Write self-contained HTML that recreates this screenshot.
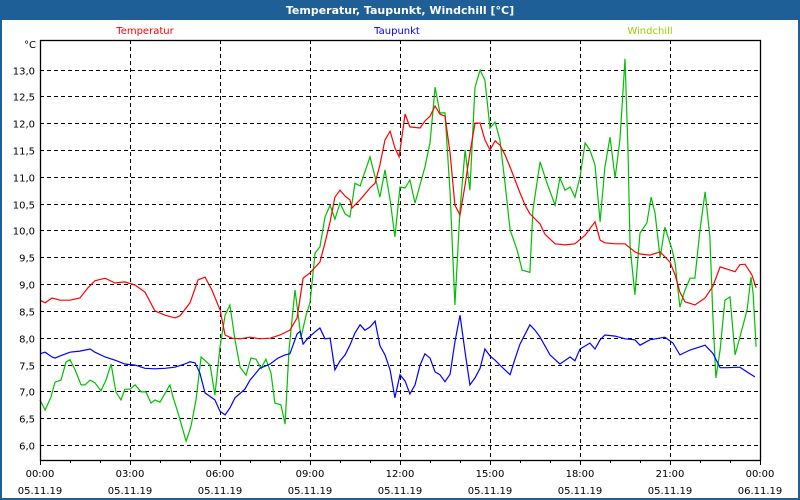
<!DOCTYPE html>
<html><head><meta charset="utf-8"><style>
body{margin:0;background:#fff;}
#wrap{position:relative;width:800px;height:500px;overflow:hidden;font-family:"DejaVu Sans","Liberation Sans",sans-serif;}
svg text{font-family:"DejaVu Sans","Liberation Sans",sans-serif;}
</style></head><body>
<div id="wrap">
<svg id="c" width="800" height="500" xmlns="http://www.w3.org/2000/svg">
<rect x="0" y="0" width="800" height="500" fill="#1e5f98"/>
<rect x="2" y="20" width="796" height="478" fill="#fff"/>
<text x="400" y="14" text-anchor="middle" fill="#fff" font-size="11" font-weight="bold">Temperatur, Taupunkt, Windchill [°C]</text>
<text x="145" y="34" text-anchor="middle" fill="#ff0000" font-size="10">Temperatur</text>
<text x="397" y="34" text-anchor="middle" fill="#0000ff" font-size="10">Taupunkt</text>
<text x="650" y="34" text-anchor="middle" fill="#99cc00" font-size="10">Windchill</text>
<text x="36" y="48" text-anchor="end" fill="#000" font-size="10">°C</text>
<g id="grid"></g><g id="series"></g><g id="axes"></g>
</svg></div>
<script>
const tempT=[0,0.17,0.4,0.67,1,1.33,1.6,1.83,2.17,2.5,2.83,3.17,3.5,3.83,4.17,4.5,4.67,5,5.27,5.5,5.73,6,6.17,6.4,6.67,7,7.33,7.67,8,8.33,8.57,8.77,9,9.33,9.5,9.67,9.83,10,10.17,10.33,10.4,10.67,11,11.17,11.33,11.5,11.67,11.83,11.97,12.17,12.33,12.67,12.83,13,13.17,13.33,13.5,13.67,13.83,14,14.17,14.33,14.5,14.67,14.83,15,15.17,15.33,15.5,15.67,16,16.17,16.33,16.67,16.83,17.17,17.5,17.83,18.17,18.5,18.67,18.83,19.17,19.5,19.83,20,20.33,20.67,21,21.17,21.33,21.5,21.83,22.17,22.43,22.67,23,23.17,23.33,23.5,23.73,23.87];
const tempV=[8.70,8.65,8.74,8.70,8.70,8.74,8.93,9.06,9.11,9.02,9.04,8.98,8.85,8.50,8.42,8.37,8.41,8.65,9.08,9.13,8.89,8.52,8.05,7.99,7.98,8.01,7.98,7.99,8.05,8.14,8.37,9.11,9.21,9.41,9.77,10.16,10.62,10.75,10.64,10.57,10.42,10.57,10.79,10.88,11.22,11.69,11.85,11.54,11.37,12.17,11.93,11.91,12.04,12.13,12.32,12.17,12.13,11.44,10.47,10.29,10.85,11.44,12.00,12.00,11.69,11.50,11.67,11.59,11.41,11.18,10.70,10.47,10.31,10.12,9.93,9.75,9.73,9.75,9.91,10.16,9.82,9.77,9.75,9.75,9.60,9.56,9.54,9.60,9.41,9.17,8.85,8.67,8.61,8.74,8.96,9.32,9.26,9.23,9.36,9.37,9.17,8.93];
const dewT=[0,0.17,0.4,0.5,0.67,1,1.33,1.67,1.83,2.17,2.5,2.83,3.17,3.5,3.83,4.17,4.5,4.83,5,5.17,5.33,5.5,5.83,6,6.17,6.33,6.5,6.83,7,7.33,7.67,7.93,8.17,8.33,8.57,8.67,8.77,8.93,9.17,9.33,9.5,9.67,9.83,10,10.17,10.33,10.5,10.67,10.83,11,11.17,11.33,11.5,11.67,11.83,12,12.17,12.33,12.5,12.67,12.83,13,13.17,13.33,13.5,13.67,13.83,14,14.17,14.33,14.5,14.67,14.83,15,15.17,15.33,15.5,15.67,15.83,16,16.33,16.5,16.67,17,17.33,17.67,17.83,18,18.33,18.5,18.67,18.83,19.17,19.5,19.83,20,20.33,20.83,21.1,21.33,21.67,22.17,22.43,22.67,22.9,23.33,23.57,23.83];
const dewV=[7.70,7.73,7.64,7.62,7.66,7.73,7.75,7.79,7.73,7.64,7.58,7.51,7.49,7.43,7.42,7.43,7.45,7.51,7.55,7.53,7.34,6.97,6.84,6.63,6.56,6.69,6.88,7.04,7.21,7.43,7.51,7.62,7.68,7.70,8.07,8.12,7.88,7.99,8.11,8.18,7.98,7.99,7.40,7.57,7.68,7.86,8.09,8.24,8.14,8.20,8.31,7.85,7.68,7.40,6.88,7.31,7.19,6.95,7.12,7.49,7.70,7.62,7.36,7.31,7.18,7.32,7.92,8.42,7.73,7.12,7.25,7.43,7.79,7.66,7.58,7.49,7.40,7.31,7.60,7.88,8.24,8.14,8.01,7.68,7.51,7.64,7.57,7.79,7.90,7.79,7.96,8.05,8.03,7.98,7.96,7.86,7.96,8.01,7.90,7.68,7.77,7.86,7.71,7.44,7.44,7.45,7.36,7.27];
const windT=[0,0.17,0.37,0.5,0.7,0.87,1.0,1.17,1.37,1.5,1.67,1.83,2.03,2.2,2.37,2.53,2.7,2.83,3.0,3.17,3.37,3.53,3.7,3.83,4.0,4.33,4.43,4.6,4.87,5.03,5.2,5.37,5.67,5.83,6.0,6.17,6.33,6.5,6.67,6.87,7.03,7.2,7.37,7.53,7.7,7.83,8.03,8.17,8.3,8.5,8.7,8.87,9.0,9.17,9.33,9.5,9.67,9.83,10.0,10.17,10.33,10.5,10.67,11.0,11.17,11.33,11.5,11.67,11.83,12.0,12.17,12.33,12.5,12.83,13.0,13.17,13.33,13.5,13.67,13.83,14.0,14.17,14.33,14.5,14.67,14.83,15.0,15.17,15.33,15.5,15.67,15.9,16.07,16.33,16.43,16.67,16.9,17.17,17.33,17.5,17.67,17.83,18.0,18.17,18.33,18.5,18.67,18.83,19.0,19.17,19.33,19.43,19.5,19.6,19.67,19.83,20.0,20.23,20.37,20.5,20.67,20.83,21.07,21.17,21.33,21.5,21.67,21.83,22.0,22.17,22.33,22.43,22.53,22.67,22.83,23.0,23.17,23.33,23.57,23.7,23.77,23.87];
const windV=[6.84,6.65,6.90,7.17,7.21,7.55,7.59,7.40,7.12,7.12,7.21,7.16,7.01,7.21,7.51,6.99,6.84,7.04,7.04,7.12,6.99,6.99,6.78,6.84,6.80,7.12,6.90,6.60,6.07,6.34,6.84,7.64,7.49,6.93,7.83,8.42,8.61,7.96,7.45,7.30,7.62,7.60,7.43,7.60,7.34,6.78,6.75,6.39,7.77,8.89,8.01,8.42,8.65,9.58,9.69,10.25,10.47,10.21,10.51,10.31,10.25,10.88,10.83,11.37,11.00,10.62,11.13,10.57,9.88,10.81,10.79,10.94,10.51,11.18,11.63,12.67,12.19,12.19,10.70,8.61,10.38,11.50,10.75,12.67,12.99,12.80,11.91,12.02,11.69,10.88,10.01,9.64,9.26,9.22,10.38,11.28,10.88,10.47,10.98,10.75,10.81,10.62,10.99,11.63,11.50,11.22,10.16,11.18,11.74,10.98,11.69,12.56,13.20,11.50,9.69,8.80,9.95,10.14,10.62,10.33,9.49,10.06,9.64,9.39,8.57,8.89,9.11,9.11,10.01,10.72,9.88,8.39,7.25,7.77,8.70,8.76,7.68,8.01,8.52,9.13,8.83,7.83];
const yTicks=[6.0,6.5,7.0,7.5,8.0,8.5,9.0,9.5,10.0,10.5,11.0,11.5,12.0,12.5,13.0];
const xTickLabels=["00:00","03:00","06:00","09:00","12:00","15:00","18:00","21:00","00:00"];
const xDateLabels=["05.11.19","05.11.19","05.11.19","05.11.19","05.11.19","05.11.19","05.11.19","05.11.19","06.11.19"];
const L=40,R=760,T=40,B=460;
const X=h=>L+h*(R-L)/24;
const Y=v=>69.5+(13-v)*53.64;
const NS="http://www.w3.org/2000/svg";
function mk(tag,attrs,parent){const e=document.createElementNS(NS,tag);for(const k in attrs)e.setAttribute(k,attrs[k]);parent.appendChild(e);return e;}
const grid=document.getElementById('grid'),axes=document.getElementById('axes'),ser=document.getElementById('series');
yTicks.forEach((v,i)=>{
  const y=Math.round(Y(v))+0.5;
  const l=mk('line',{x1:L,x2:R,y1:y,y2:y,stroke:'#000','stroke-dasharray':'4,3','stroke-width':1},grid);
  
  
  const t=mk('text',{x:35,y:y+4,'text-anchor':'end','font-size':10,fill:'#000'},axes);
  t.textContent=v.toFixed(1).replace('.',',');
  
  
});
for(let h=0;h<=24;h++){
  const x=Math.round(X(h))+0.5;
  if(h%3===0&&h>0&&h<24){
    const g=mk('line',{x1:x,x2:x,y1:T,y2:B,stroke:'#000','stroke-dasharray':'4,3'},grid);
    
    
  }
  const tk=mk('line',{x1:x,x2:x,y1:B,y2:B+(h%3===0?5:3),stroke:'#000'},axes);
  
  
}
xTickLabels.forEach((s,i)=>{
  const x=X(i*3);
  const t=mk('text',{x:x,y:477,'text-anchor':'middle','font-size':10,fill:'#000'},axes);
  t.textContent=s;
  
  
  const d=mk('text',{x:x,y:494,'text-anchor':'middle','font-size':10,fill:'#000'},axes);
  d.textContent=xDateLabels[i];
  
  
});
const fr=mk('rect',{x:L+0.5,y:T+0.5,width:R-L,height:B-T,fill:'none',stroke:'#000','stroke-width':1.3},axes);


function line(ts,vs,col,name){
  const p=mk('polyline',{points:ts.map((t,i)=>X(t).toFixed(1)+','+Y(vs[i]).toFixed(1)).join(' '),fill:'none',stroke:col,'stroke-width':1.2},ser);
  
  
}
line(windT,windV,'#00c000','windchill-line');
line(dewT,dewV,'#0000ff','taupunkt-line');
line(tempT,tempV,'#ff0000','temperatur-line');
</script>
</body></html>
